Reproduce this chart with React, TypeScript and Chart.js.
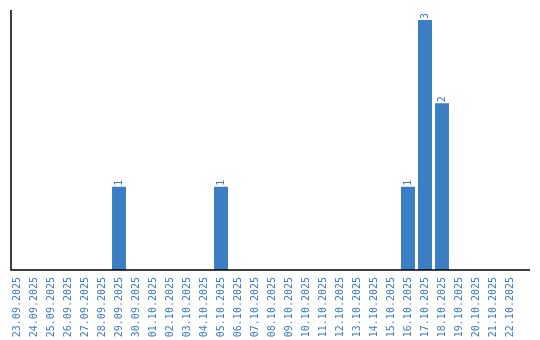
import React, { useEffect, useRef } from "react";
import { Chart, registerables } from "chart.js";

Chart.register(...registerables);

const dateLabels: string[] = [
  "23.09.2025", "24.09.2025", "25.09.2025", "26.09.2025", "27.09.2025",
  "28.09.2025", "29.09.2025", "30.09.2025", "01.10.2025", "02.10.2025",
  "03.10.2025", "04.10.2025", "05.10.2025", "06.10.2025", "07.10.2025",
  "08.10.2025", "09.10.2025", "10.10.2025", "11.10.2025", "12.10.2025",
  "13.10.2025", "14.10.2025", "15.10.2025", "16.10.2025", "17.10.2025",
  "18.10.2025", "19.10.2025", "20.10.2025", "21.10.2025", "22.10.2025",
];

const counts: number[] = [
  0, 0, 0, 0, 0,
  0, 1, 0, 0, 0,
  0, 0, 1, 0, 0,
  0, 0, 0, 0, 0,
  0, 0, 0, 1, 3,
  2, 0, 0, 0, 0,
];

const BAR_COLOR = "#3b7ec4";
const TEXT_COLOR = "#3a7bc0";
const FONT_FAMILY = "'DejaVu Sans Mono', monospace";

const axisLinesPlugin = {
  id: "axisLines",
  afterDraw(chart: any) {
    const { ctx, chartArea } = chart;
    ctx.save();
    ctx.strokeStyle = "#000";
    ctx.lineWidth = 1.5;
    const lx = chartArea.left + 2.5;
    ctx.beginPath();
    ctx.moveTo(lx, chartArea.top);
    ctx.lineTo(lx, chartArea.bottom);
    ctx.lineTo(chartArea.right + 11.5, chartArea.bottom);
    ctx.stroke();
    ctx.restore();
  },
};

const valueLabelsPlugin = {
  id: "valueLabels",
  afterDatasetsDraw(chart: any) {
    const { ctx } = chart;
    const meta = chart.getDatasetMeta(0);
    const data = chart.data.datasets[0].data as number[];
    ctx.save();
    ctx.fillStyle = TEXT_COLOR;
    ctx.font = `10px ${FONT_FAMILY}`;
    ctx.textAlign = "left";
    ctx.textBaseline = "middle";
    meta.data.forEach((bar: any, i: number) => {
      const v = data[i];
      if (!v) return;
      ctx.save();
      ctx.translate(bar.x, bar.y - 1);
      ctx.rotate(-Math.PI / 2);
      ctx.fillText(String(v), 0, 0);
      ctx.restore();
    });
    ctx.restore();
  },
};

export default function App() {
  const canvasRef = useRef<HTMLCanvasElement | null>(null);

  useEffect(() => {
    document.body.style.margin = "0";
    const canvas = canvasRef.current;
    if (!canvas) return;
    const chart = new Chart(canvas, {
      type: "bar",
      data: {
        labels: dateLabels,
        datasets: [
          {
            data: counts,
            backgroundColor: BAR_COLOR,
            borderWidth: 0,
            categoryPercentage: 1,
            barPercentage: 0.82,
          },
        ],
      },
      options: {
        animation: false,
        responsive: false,
        maintainAspectRatio: false,
        devicePixelRatio: 1,
        layout: { padding: { left: 8.5, right: 21.5, top: 10, bottom: 0 } },
        plugins: {
          legend: { display: false },
          tooltip: { enabled: false },
          title: { display: false },
        },
        scales: {
          x: {
            offset: true,
            grid: { display: false, drawTicks: false },
            border: { display: false },
            ticks: {
              autoSkip: false,
              minRotation: 90,
              maxRotation: 90,
              padding: 7,
              color: TEXT_COLOR,
              font: { family: FONT_FAMILY, size: 10 },
            },
            afterFit: (scale: any) => {
              scale.height = 70;
            },
          },
          y: {
            display: false,
            min: 0,
            max: 3.12,
          },
        },
      },
      plugins: [axisLinesPlugin, valueLabelsPlugin],
    });
    return () => chart.destroy();
  }, []);

  return (
    <div style={{ width: 540, height: 340 }}>
      <canvas ref={canvasRef} width={540} height={340} style={{ display: "block" }} />
    </div>
  );
}
